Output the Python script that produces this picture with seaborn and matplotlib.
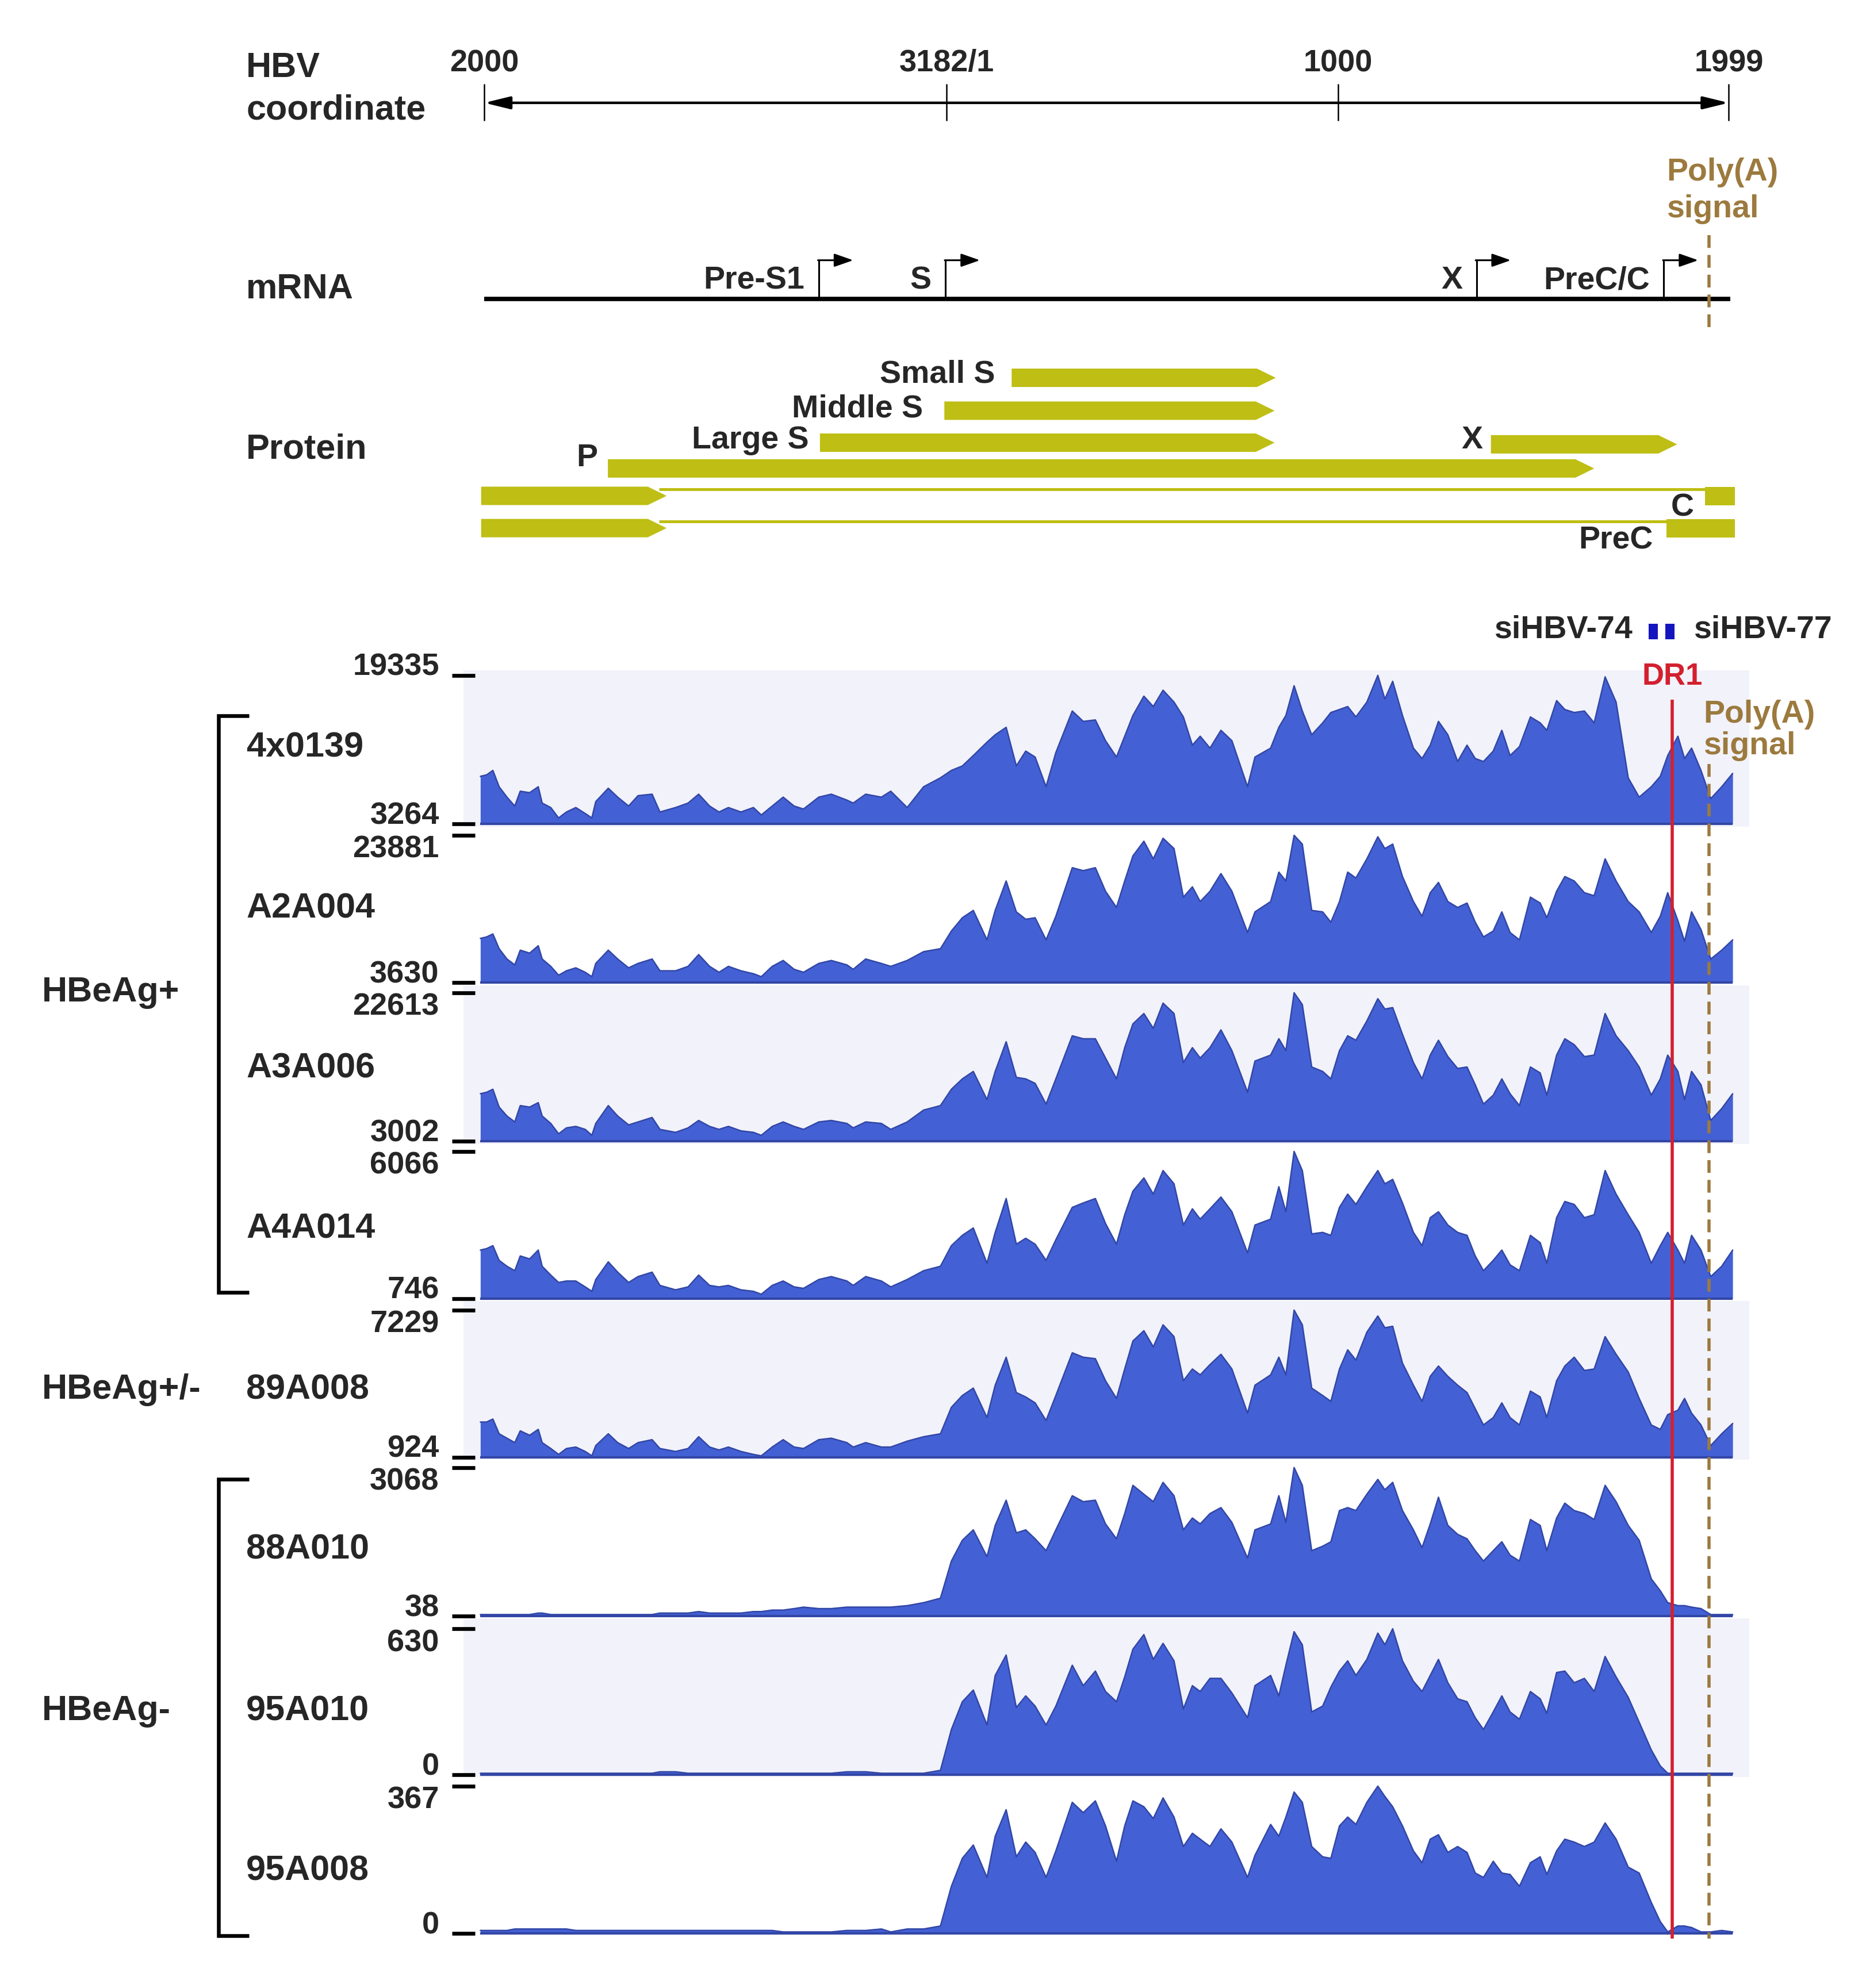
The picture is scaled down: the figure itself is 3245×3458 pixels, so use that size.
"""
HBV transcript coverage along the linearised genome (nt 2000 -> 1999):
genome map on top, eight patient coverage tracks below.
"""

import numpy as np
import matplotlib
matplotlib.use("Agg")
import matplotlib.pyplot as plt
import seaborn as sns
from matplotlib.patches import Polygon, Rectangle

# ---------------------------------------------------------------- data
# map position = bp downstream of nt 2000 on the 3182-bp genome cut at nt 2000
AXIS_TICKS = [0, 1182, 2182, 3181]
AXIS_LABELS = ["2000", "3182/1", "1000", "1999"]

PROMOTER_NAMES = ["Pre-S1", "S", "X", "PreC/C"]
PROMOTER_POS = [855, 1179, 2536, 3015]

ORF_NAMES = ["Small S", "Middle S", "Large S", "X", "P"]
ORF_START = [1348, 1176, 858, 2573, 316]
ORF_END = [2023, 2020, 2020, 3049, 2837]

# core / precore frames are split in two by the cut at nt 2000
CORE_NAMES = ["C", "PreC"]
CORE_LEFT_END = [466, 466]
CORE_RIGHT_START = [3120, 3022]
MAP_START, MAP_END = -8, 3197

DR1_POS = 3037
POLYA_POS = 3131
SIRNA_NAMES = ["siHBV-74", "siHBV-77"]
SIRNA_POS = [2988, 3031]

SAMPLES = ["4x0139", "A2A004", "A3A006", "A4A014",
           "89A008", "88A010", "95A010", "95A008"]
GROUP_NAMES = ["HBeAg+", "HBeAg+/-", "HBeAg-"]
COV_MIN = [3264, 3630, 3002, 746, 924, 38, 0, 0]
COV_MAX = [19335, 23881, 22613, 6066, 7229, 3068, 630, 367]

POS = [-10, 6, 22, 38, 58, 78, 92, 116, 138, 148,
       170, 190, 210, 234, 258, 275, 285, 317, 341, 369,
       393, 429, 449, 489, 521, 548, 576, 600, 624, 656,
       688, 708, 736, 764, 792, 816, 855, 887, 927, 943,
       975, 1015,
       1039, 1081, 1123, 1166, 1194, 1222, 1250, 1285, 1306, 1334,
       1360, 1384, 1408, 1436, 1461, 1503, 1531, 1562, 1588, 1616,
       1637, 1658, 1686, 1710, 1735, 1763, 1787, 1810, 1830, 1855,
       1883, 1911, 1951, 1970, 2010, 2031, 2049, 2070, 2091, 2115,
       2143, 2164, 2186, 2207, 2228, 2256, 2284, 2302, 2322, 2347,
       2375, 2397, 2418, 2439, 2463, 2488, 2512, 2533, 2554, 2579,
       2601, 2622, 2646, 2674, 2699, 2716, 2741, 2762, 2786, 2812,
       2837, 2865, 2893, 2924, 2952, 2983, 3006, 3025, 3051, 3068,
       3086, 3110, 3135, 3163, 3191]

# read depth at POS, in % of each track's min..max range
DEPTH_4X0139 = [32, 33, 36, 25, 18, 12, 22, 21, 25, 14, 11, 4, 8, 11, 7, 4, 15, 24, 18, 12,
                19, 20, 8, 11, 14, 20, 12, 8, 11, 8, 11, 6, 12, 18, 12, 10, 18, 20, 16, 14,
                20, 18,
                22, 11, 25, 31, 36, 39, 46, 55, 60, 65, 39, 49, 45, 25, 48, 76, 69, 70, 56, 45,
                59, 73, 86, 79, 90, 82, 72, 53, 59, 51, 63, 56, 25, 45, 51, 65, 73, 93, 76, 60,
                68, 75, 77, 79, 72, 82, 100, 84, 96, 73, 51, 44, 53, 69, 60, 42, 53, 44, 42, 49,
                63, 46, 52, 72, 68, 63, 83, 77, 75, 76, 68, 99, 82, 31, 18, 25, 32, 46, 59, 44,
                51, 36, 17, 25, 34]
DEPTH_A2A004 = [30, 31, 33, 23, 16, 12, 22, 20, 25, 16, 11, 5, 8, 10, 7, 4, 13, 22, 16, 10,
                13, 16, 8, 8, 11, 19, 11, 7, 11, 8, 6, 4, 11, 15, 9, 7, 13, 15, 12, 9,
                16, 13,
                11, 15, 21, 23, 35, 44, 49, 29, 49, 69, 48, 43, 44, 29, 45, 78, 76, 78, 62, 51,
                69, 86, 96, 84, 98, 91, 58, 65, 55, 62, 74, 62, 34, 48, 55, 75, 69, 100, 94, 49,
                48, 41, 55, 75, 71, 84, 99, 91, 94, 72, 55, 45, 61, 68, 55, 51, 54, 41, 31, 35,
                48, 34, 29, 58, 54, 44, 62, 72, 69, 61, 59, 84, 69, 55, 48, 34, 45, 61, 42, 28,
                48, 36, 16, 22, 29]
DEPTH_A3A006 = [32, 33, 35, 23, 17, 13, 24, 23, 26, 17, 12, 5, 9, 10, 8, 4, 12, 24, 17, 11,
                13, 16, 8, 6, 9, 14, 10, 8, 10, 7, 6, 4, 10, 13, 10, 8, 13, 14, 12, 9,
                13, 12,
                8, 13, 21, 24, 35, 42, 47, 28, 47, 67, 43, 42, 39, 25, 42, 71, 69, 69, 56, 42,
                63, 79, 86, 76, 93, 86, 53, 63, 56, 63, 75, 61, 33, 54, 58, 69, 61, 100, 92, 50,
                47, 42, 61, 71, 68, 81, 96, 89, 90, 72, 53, 42, 58, 68, 57, 49, 50, 38, 25, 31,
                42, 32, 24, 50, 46, 31, 58, 69, 65, 57, 58, 86, 71, 61, 50, 31, 42, 58, 47, 28,
                47, 38, 14, 22, 32]
DEPTH_A4A014 = [33, 34, 36, 26, 22, 19, 29, 27, 33, 22, 16, 11, 12, 12, 8, 5, 13, 25, 18, 11,
                15, 18, 9, 6, 8, 16, 9, 8, 9, 6, 5, 3, 9, 12, 8, 7, 13, 15, 12, 9,
                15, 12,
                8, 13, 19, 22, 36, 43, 48, 24, 45, 68, 37, 41, 37, 26, 40, 62, 65, 68, 51, 37,
                57, 73, 82, 71, 87, 78, 50, 61, 54, 61, 69, 59, 31, 50, 54, 76, 59, 100, 87, 44,
                45, 43, 62, 71, 64, 76, 87, 78, 81, 65, 45, 36, 55, 59, 50, 45, 43, 29, 19, 26,
                33, 23, 19, 43, 38, 24, 55, 66, 64, 55, 57, 87, 71, 57, 45, 24, 36, 45, 33, 24,
                43, 33, 15, 22, 33]
DEPTH_89A008 = [24, 24, 26, 16, 13, 10, 18, 15, 19, 10, 6, 2, 6, 7, 4, 1, 8, 16, 10, 6,
                10, 12, 6, 4, 6, 14, 7, 5, 7, 4, 2, 1, 7, 12, 7, 6, 12, 13, 10, 7,
                10, 7,
                7, 11, 14, 16, 34, 42, 47, 27, 49, 68, 44, 41, 37, 25, 42, 71, 68, 67, 52, 40,
                60, 79, 86, 75, 90, 82, 52, 60, 56, 63, 70, 60, 30, 49, 56, 68, 56, 100, 90, 47,
                42, 38, 60, 73, 66, 85, 96, 88, 89, 64, 49, 38, 55, 62, 55, 49, 44, 33, 22, 27,
                37, 27, 22, 45, 41, 27, 52, 62, 68, 59, 60, 82, 70, 58, 40, 22, 19, 29, 32, 40,
                30, 22, 8, 16, 23]
DEPTH_88A010 = [1, 1, 1, 1, 1, 1, 1, 1, 2, 2, 1, 1, 1, 1, 1, 1, 1, 1, 1, 1,
                1, 1, 2, 2, 2, 3, 2, 2, 2, 2, 3, 3, 4, 4, 5, 6, 5, 5, 6, 6,
                6, 6,
                6, 7, 9, 12, 37, 51, 58, 40, 61, 78, 56, 58, 52, 44, 58, 81, 77, 78, 62, 52,
                69, 88, 82, 77, 90, 81, 58, 66, 62, 69, 73, 63, 39, 58, 62, 81, 63, 100, 88, 44,
                47, 50, 71, 73, 71, 82, 92, 85, 90, 71, 58, 46, 62, 80, 61, 55, 52, 44, 37, 44,
                50, 41, 37, 65, 61, 44, 66, 76, 71, 69, 65, 88, 77, 61, 51, 25, 17, 9, 7, 7,
                6, 5, 1, 1, 1]
DEPTH_95A010 = [1, 1, 1, 1, 1, 1, 1, 1, 1, 1, 1, 1, 1, 1, 1, 1, 1, 1, 1, 1,
                1, 1, 2, 2, 1, 1, 1, 1, 1, 1, 1, 1, 1, 1, 1, 1, 1, 1, 2, 2,
                2, 1,
                1, 1, 1, 3, 31, 50, 58, 34, 68, 82, 46, 54, 47, 34, 47, 75, 61, 71, 57, 50,
                67, 86, 96, 79, 90, 78, 45, 61, 57, 66, 66, 56, 39, 61, 68, 54, 75, 98, 89, 43,
                47, 60, 71, 78, 68, 79, 97, 89, 100, 78, 64, 57, 68, 79, 63, 52, 50, 39, 31, 43,
                54, 43, 38, 57, 52, 42, 70, 71, 63, 66, 57, 81, 67, 53, 36, 17, 6, 1, 1, 1,
                1, 1, 1, 1, 1]
DEPTH_95A008 = [2, 2, 2, 2, 2, 3, 3, 3, 3, 3, 3, 3, 3, 2, 2, 2, 2, 2, 2, 2,
                2, 2, 2, 2, 2, 2, 2, 2, 2, 2, 2, 2, 2, 1, 1, 1, 1, 1, 2, 2,
                2, 3,
                1, 3, 3, 5, 32, 51, 60, 38, 66, 84, 52, 62, 55, 38, 56, 89, 82, 90, 73, 49,
                73, 90, 86, 78, 92, 79, 59, 68, 64, 59, 71, 62, 38, 53, 74, 66, 79, 96, 89, 59,
                52, 51, 73, 79, 74, 89, 100, 93, 86, 73, 56, 48, 64, 67, 55, 59, 55, 41, 38, 49,
                41, 40, 32, 48, 52, 40, 56, 64, 62, 59, 62, 75, 64, 45, 41, 21, 8, 1, 5, 5,
                4, 1, 1, 2, 1]

DEPTHS = [DEPTH_4X0139, DEPTH_A2A004, DEPTH_A3A006, DEPTH_A4A014,
          DEPTH_89A008, DEPTH_88A010, DEPTH_95A010, DEPTH_95A008]

# ---------------------------------------------------------------- style
BLUE = "#4361D4"
EDGE = "#3246A6"
LAVENDER = "#F2F2FA"
OLIVE = "#BEBE14"
BROWN = "#9C7A3E"
RED = "#D3202E"
SQUARE = "#1515C0"
BIG, MID = 44, 39

sns.set_theme(style="white")
plt.rcParams["font.family"] = ["Liberation Sans", "DejaVu Sans"]
plt.rcParams["font.weight"] = "bold"

# layout units: the figure is 1470 x 1566 units (1 unit = 2.2075 px)
FIG_W, FIG_H = 1470.0, 1566.0
X0, KX = 381.5, 0.3082              # map position -> layout x
PANEL_L, PANEL_R = 365.0, 1378.0
XLIM = ((PANEL_L - X0) / KX, (PANEL_R - X0) / KX)
TRACK_TOP = [532, 658, 782, 907, 1032, 1156, 1283, 1407]
TRACK_BASE = [649, 774, 899, 1023, 1148, 1273, 1398, 1523]
LABEL_Y = [589, 716, 842, 968, 1095, 1221, 1348, 1474]


def frac(x0, y0, x1, y1):
    return [x0 / FIG_W, 1 - y1 / FIG_H, (x1 - x0) / FIG_W, (y1 - y0) / FIG_H]


def to_pos(x):
    return (x - X0) / KX


def olive_bar(ax, x0, x1, yc, head=48, h=14.5, pointed=True):
    t, b = yc - h / 2, yc + h / 2
    if pointed:
        pts = [(x0, t), (x1 - head, t), (x1, yc), (x1 - head, b), (x0, b)]
    else:
        pts = [(x0, t), (x1, t), (x1, b), (x0, b)]
    ax.add_patch(Polygon(pts, closed=True, facecolor=OLIVE, edgecolor="none"))


fig = plt.figure(figsize=(32.45, 34.58), dpi=100)

# ---------------------------------------------------------------- genome map
am = fig.add_axes(frac(PANEL_L, 0, PANEL_R, 460))
am.set_xlim(*XLIM)
am.set_ylim(460, 0)
am.axis("off")

am.annotate("", xy=(AXIS_TICKS[-1], 81), xytext=(AXIS_TICKS[0], 81),
            arrowprops=dict(arrowstyle="<|-|>,head_length=0.45,head_width=0.11",
                            lw=3.2, color="black", mutation_scale=60,
                            shrinkA=0, shrinkB=0))
am.vlines(AXIS_TICKS, 66, 95, color="black", lw=1.8)
for t, lab in zip(AXIS_TICKS, AXIS_LABELS):
    am.text(t, 50, lab, ha="center", va="center", fontsize=MID)

am.hlines(235.5, 0, 3185, color="black", lw=5.5)
for name, p in zip(PROMOTER_NAMES, PROMOTER_POS):
    am.plot([p, p], [235.5, 205], color="black", lw=2.2, solid_capstyle="butt")
    am.annotate("", xy=(p + 88, 205), xytext=(p - 2, 205),
                arrowprops=dict(arrowstyle="-|>,head_length=0.4,head_width=0.14",
                                lw=2.2, color="black", mutation_scale=50,
                                shrinkA=0, shrinkB=0))
    am.text(p - 36, 221, name, ha="right", va="center", fontsize=40)

am.vlines(POLYA_POS, 185, 262, colors=BROWN, lw=4, linestyles=(0, (4, 2.2)))
am.text(to_pos(1313), 136, "Poly(A)", color=BROWN, ha="left", va="center", fontsize=40)
am.text(to_pos(1313), 165, "signal", color=BROWN, ha="left", va="center", fontsize=40)

ORF_ROW_Y = [297.6, 323.5, 348.7, 350.0, 369.0]
ORF_LABEL_Y = [295, 322, 347, 347, 361]
ORF_LABEL_GAP = [42, 55, 29, 21, 26]
for name, s, e, y, ly, g in zip(ORF_NAMES, ORF_START, ORF_END,
                                ORF_ROW_Y, ORF_LABEL_Y, ORF_LABEL_GAP):
    olive_bar(am, s, e, y)
    am.text(s - g, ly, name, ha="right", va="center", fontsize=40)

CORE_ROW_Y = [390.6, 416.0]
for name, le, rs, y in zip(CORE_NAMES, CORE_LEFT_END, CORE_RIGHT_START, CORE_ROW_Y):
    olive_bar(am, MAP_START, le, y)
    olive_bar(am, rs, MAP_END, y, pointed=False)
    am.hlines(y - 5.2, le - 20, rs, color=OLIVE, lw=3.6)
am.text(to_pos(1325.5), 400, "C", ha="center", va="center", fontsize=40)
am.text(to_pos(1302), 426, "PreC", ha="right", va="center", fontsize=40)

# ---------------------------------------------------------------- coverage tracks
for i, depth in enumerate(DEPTHS):
    assert len(depth) == len(POS), (SAMPLES[i], len(depth))
    top, base = TRACK_TOP[i], TRACK_BASE[i]
    y_hi = 528 if i == 0 else TRACK_BASE[i - 1] + 2
    y_lo = base + 2
    ax = fig.add_axes(frac(PANEL_L, y_hi, PANEL_R, y_lo))
    lo, hi = COV_MIN[i], COV_MAX[i]
    s = (hi - lo) / (base - top)
    ax.set_ylim(lo - s * (y_lo - base), hi + s * (top - y_hi))
    ax.set_xlim(*XLIM)
    ax.set_facecolor(LAVENDER if i % 2 == 0 else "white")
    for sp in ax.spines.values():
        sp.set_visible(False)

    cov = lo + np.asarray(depth, dtype=float) / 100.0 * (hi - lo)
    ax.fill_between(POS, lo, cov, color=BLUE, lw=0)
    sns.lineplot(x=POS, y=cov, ax=ax, color=EDGE, lw=1.8, estimator=None, sort=False)
    ax.hlines(lo, POS[0], POS[-1], color=EDGE, lw=3)

    ax.set_xticks([])
    ax.set_yticks([lo, hi])
    ax.set_yticklabels([])
    ax.tick_params(axis="y", left=True, direction="inout", length=28.6,
                   width=4.8, color="black")
    ax.set_xlabel("")
    ax.set_ylabel("")
    tr = ax.get_yaxis_transform()
    xl = (346 - PANEL_L) / (PANEL_R - PANEL_L)
    ax.text(xl, lo, f"{lo}", transform=tr, ha="right", va="baseline", fontsize=MID)
    ax.text(xl, hi, f"{hi}", transform=tr, ha="right",
            va="baseline" if i == 0 else "top", fontsize=MID)

# ---------------------------------------------------------------- DR1 / poly(A) guides
ag = fig.add_axes(frac(PANEL_L, 460, PANEL_R, FIG_H))
ag.set_xlim(*XLIM)
ag.set_ylim(FIG_H, 460)
ag.axis("off")
ag.set_zorder(5)
ag.vlines(DR1_POS, 551, 1527, color=RED, lw=4)
ag.vlines(POLYA_POS, 602, 1527, colors=BROWN, lw=4, linestyles=(0, (4, 2.2)))
ag.text(DR1_POS, 533, "DR1", color=RED, ha="center", va="center", fontsize=38)
ag.text(to_pos(1342), 563, "Poly(A)", color=BROWN, ha="left", va="center", fontsize=40)
ag.text(to_pos(1342), 588, "signal", color=BROWN, ha="left", va="center", fontsize=40)
for p in SIRNA_POS:
    ag.add_patch(Rectangle((p - 12, 491.5), 24, 12, facecolor=SQUARE, edgecolor="none"))
ag.text(to_pos(1286), 496, SIRNA_NAMES[0], ha="right", va="center", fontsize=40)
ag.text(to_pos(1334), 496, SIRNA_NAMES[1], ha="left", va="center", fontsize=40)

# ---------------------------------------------------------------- left-hand labels
ov = fig.add_axes([0, 0, 1, 1])
ov.set_xlim(0, FIG_W)
ov.set_ylim(FIG_H, 0)
ov.axis("off")
ov.set_zorder(6)

ov.text(194, 53.5, "HBV", ha="left", va="center", fontsize=BIG)
ov.text(194, 87, "coordinate", ha="left", va="center", fontsize=BIG)
ov.text(194, 228, "mRNA", ha="left", va="center", fontsize=BIG)
ov.text(194, 354, "Protein", ha="left", va="center", fontsize=BIG)

for name, y in zip(SAMPLES, LABEL_Y):
    ov.text(194, y, name, ha="left", va="center", fontsize=BIG)

GROUP_Y = [782, 1095, 1348]
for name, y in zip(GROUP_NAMES, GROUP_Y):
    ov.text(33, y, name, ha="left", va="center", fontsize=BIG)

for y0, y1 in [(564, 1018), (1165, 1525)]:
    ov.plot([196, 172, 172, 196], [y0, y0, y1, y1], color="black", lw=4.7,
            solid_joinstyle="miter", solid_capstyle="butt")

fig.savefig("out.png", dpi=100)
plt.close(fig)
